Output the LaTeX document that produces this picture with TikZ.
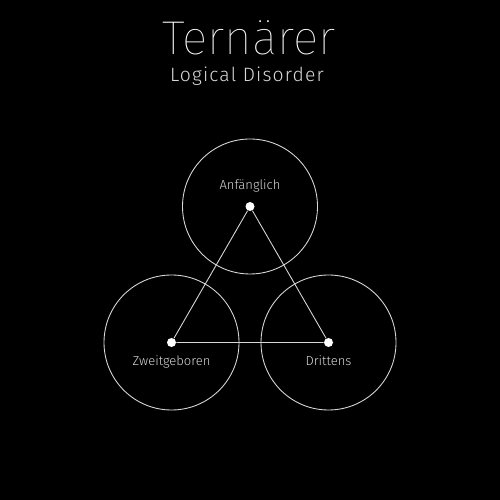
\documentclass[tikz,border=0pt]{standalone}
\usepackage{fontspec}
\setmainfont{Fira Sans}
\newfontfamily\titlefont{Fira Sans Thin}
\newfontfamily\labelfont{Fira Sans Light}
\newfontfamily\subfont{Fira Sans Light}[LetterSpace=6]
\usetikzlibrary{positioning}
\definecolor{linegrey}{HTML}{D8D8D8}
\tikzset{
	dot/.style = {circle, fill = white, inner sep = 0pt, minimum size = 0.18cm},
	setlabel/.style = {text = linegrey, font = \labelfont\fontsize{7.4}{9}\selectfont, inner sep = 0pt}
}
\begin{document}
\begin{tikzpicture}
		\fill[black] (0,0) rectangle (10,10);
		\useasboundingbox (0,0) rectangle (10,10);
		\node[anchor = base, text = white, font = \titlefont\fontsize{27}{29}\selectfont, inner sep = 0pt] (title) at (4.98,8.9) {Ternärer};
		\node[anchor = base, text = linegrey, font = \subfont\fontsize{11}{13}\selectfont, inner sep = 0pt] (subtitle) at (4.94,8.36) {Logical Disorder};
		\node[dot] (anf) at (5,5.87) {};
		\node[dot] (zwe) at (3.43,3.15) {};
		\node[dot] (dri) at (6.57,3.15) {};
		\draw[linegrey, line width = 0.5pt] (anf.center) circle (1.35);
		\draw[linegrey, line width = 0.5pt] (zwe.center) circle (1.35);
		\draw[linegrey, line width = 0.5pt] (dri.center) circle (1.35);
		\draw[linegrey, line width = 0.5pt] (anf) -- (zwe) -- (dri) -- (anf);
		\node[setlabel, above = 0.19cm of anf] (anflabel) {Anfänglich};
		\node[setlabel, below = 0.16cm of zwe] (zwelabel) {Zweitgeboren};
		\node[setlabel, below = 0.16cm of dri] (drilabel) {Drittens};
		\end{tikzpicture}
\end{document}
